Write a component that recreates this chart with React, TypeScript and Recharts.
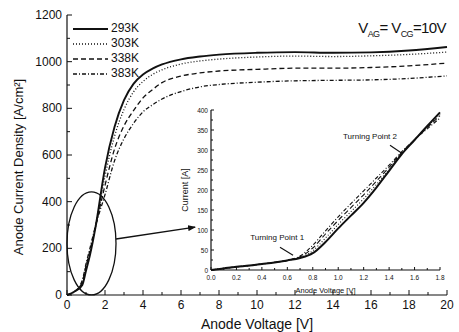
import { Legend, Line, LineChart, ReferenceDot, ReferenceLine, XAxis, YAxis } from 'recharts'

// main plot: anode current density vs anode voltage
const mainVoltage = [0, 0.4, 0.8, 1.0, 1.2, 1.5, 2, 2.5, 3, 3.5, 4, 4.5, 5, 6, 7, 8, 10, 12, 14, 16, 18, 20]
const j293 = [0, 15, 42, 104, 168, 290, 545, 720, 835, 905, 945, 970, 988, 1010, 1022, 1030, 1038, 1041, 1038, 1040, 1048, 1063]
const j303 = [0, 15, 48, 114, 178, 292, 510, 680, 795, 870, 915, 945, 965, 990, 1003, 1011, 1020, 1024, 1022, 1025, 1031, 1041]
const j338 = [0, 15, 55, 124, 188, 294, 470, 625, 725, 790, 845, 880, 910, 938, 952, 960, 967, 972, 972, 975, 982, 994]
const j383 = [0, 15, 62, 133, 198, 296, 430, 575, 670, 735, 785, 815, 840, 872, 892, 902, 912, 918, 920, 922, 928, 939]

// inset: current vs anode voltage, low voltage region
const insetVoltage = [0, 0.1, 0.2, 0.3, 0.4, 0.5, 0.6, 0.7, 0.8, 0.9, 1.0, 1.1, 1.2, 1.3, 1.4, 1.5, 1.6, 1.7, 1.8]
const i293 = [0, 4, 8, 11, 15, 19, 24, 30, 42, 70, 104, 136, 168, 206, 248, 290, 325, 360, 394]
const i303 = [0, 4, 8, 11, 15, 19, 24, 31, 48, 80, 114, 146, 178, 214, 252, 292, 325, 358, 390]
const i338 = [0, 4, 8, 11, 15, 19, 24, 33, 55, 90, 124, 156, 188, 222, 257, 294, 326, 356, 386]
const i383 = [0, 4, 8, 11, 15, 19, 24, 35, 62, 98, 133, 166, 198, 230, 262, 296, 326, 353, 380]

const mainTicksX = [0, 1, 2, 3, 4, 5, 6, 7, 8, 9, 10, 11, 12, 13, 14, 15, 16, 17, 18, 19, 20]
const mainTicksY = [0, 100, 200, 300, 400, 500, 600, 700, 800, 900, 1000, 1100, 1200]
const insetTicksX = [0, 0.1, 0.2, 0.3, 0.4, 0.5, 0.6, 0.7, 0.8, 0.9, 1.0, 1.1, 1.2, 1.3, 1.4, 1.5, 1.6, 1.7, 1.8]
const insetTicksY = [0, 25, 50, 75, 100, 125, 150, 175, 200, 225, 250, 275, 300, 325, 350, 375, 400]

const seriesNames = ['293K', '303K', '338K', '383K']
const seriesKeys = ['t293', 't303', 't338', 't383']
const dashes = [undefined, '1 2', '5 3', '4 2 1 2']

const INK = '#111'
const FONT = '"Liberation Sans", Arial, sans-serif'

const mainData = mainVoltage.map((v, i) => ({ v, t293: j293[i], t303: j303[i], t338: j338[i], t383: j383[i] }))
const insetData = insetVoltage.map((v, i) => ({ v, t293: i293[i], t303: i303[i], t338: i338[i], t383: i383[i] }))

type Side = 'bottom' | 'top' | 'left' | 'right'

function makeTick(side: Side, isMajor: (v: number) => boolean, major: number, minor: number, fontSize = 0, gap = 0, fmt?: (v: number) => string) {
  return (props: any) => {
    const { x, y, payload } = props
    const v = payload.value as number
    const big = isMajor(v)
    const len = big ? major : minor
    const label = big && fmt ? fmt(v) : null
    if (side === 'bottom') {
      return (
        <g>
          <line x1={x} x2={x} y1={y} y2={y - len} stroke={INK} />
          {label && (
            <text x={x} y={y + gap} textAnchor="middle" dominantBaseline="central" fontSize={fontSize} fontFamily={FONT} fill={INK}>
              {label}
            </text>
          )}
        </g>
      )
    }
    if (side === 'top') return <line x1={x} x2={x} y1={y} y2={y + len} stroke={INK} />
    if (side === 'right') return <line x1={x} x2={x - len} y1={y} y2={y} stroke={INK} />
    return (
      <g>
        <line x1={x} x2={x + len} y1={y} y2={y} stroke={INK} />
        {label && (
          <text x={x - gap} y={y} textAnchor="end" dominantBaseline="central" fontSize={fontSize} fontFamily={FONT} fill={INK}>
            {label}
          </text>
        )}
      </g>
    )
  }
}

const mainMajorX = (v: number) => v % 2 === 0
const mainMajorY = (v: number) => v % 200 === 0
const insetMajorX = (v: number) => Math.round(v * 10) % 2 === 0
const insetMajorY = (v: number) => v % 50 === 0

function LegendBox() {
  return (
    <div style={{ fontFamily: FONT, fontSize: 12, color: INK, lineHeight: '15px' }}>
      {seriesNames.map((name, i) => (
        <div key={name} style={{ display: 'flex', alignItems: 'center', height: 15 }}>
          <svg width={35} height={6} style={{ marginRight: 3 }}>
            <line x1={0} x2={35} y1={3} y2={3} stroke={INK} strokeWidth={i === 0 ? 1.8 : 1.3} strokeDasharray={dashes[i]} />
          </svg>
          <span>{name}</span>
        </div>
      ))}
    </div>
  )
}

// rotated y title, a little below the centre of the axis as in the reference
function YTitle({ viewBox }: any) {
  const cx = viewBox.x + 18
  const cy = viewBox.y + viewBox.height / 2 + 12
  return (
    <text x={cx} y={cy} transform={`rotate(-90 ${cx} ${cy})`} textAnchor="middle" dominantBaseline="central" fontSize={13} fontFamily={FONT} fill={INK}>
      Anode Current Density [A/cm²]
    </text>
  )
}

export default function App() {
  return (
    <div style={{ position: 'absolute', left: 0, top: 0, width: 459, height: 332, background: '#fff', fontFamily: FONT }}>
      <LineChart width={459} height={332} data={mainData} margin={{ top: 15, right: 12, bottom: 0, left: 0 }}>
        <defs>
          <marker id="arrowHead" markerWidth={8} markerHeight={6} refX={7} refY={3} orient="auto" markerUnits="userSpaceOnUse">
            <path d="M0,0 L8,3 L0,6 z" fill={INK} />
          </marker>
        </defs>
        <XAxis
          type="number"
          dataKey="v"
          domain={[0, 20]}
          ticks={mainTicksX}
          interval={0}
          height={37}
          tickSize={0}
          tickMargin={0}
          tickLine={false}
          axisLine={{ stroke: INK, strokeWidth: 1.2 }}
          tick={makeTick('bottom', mainMajorX, 5, 3, 12, 10, (v) => String(v))}
          label={{ value: 'Anode Voltage [V]', position: 'insideBottom', offset: 3, fontSize: 14, fill: INK, fontFamily: FONT }}
        />
        <XAxis
          xAxisId="top"
          orientation="top"
          type="number"
          domain={[0, 20]}
          allowDataOverflow
          ticks={mainTicksX}
          interval={0}
          height={0}
          tickSize={0}
          tickMargin={0}
          tickLine={false}
          axisLine={{ stroke: INK, strokeWidth: 1.2 }}
          tick={makeTick('top', mainMajorX, 5, 3)}
        />
        <YAxis
          type="number"
          domain={[0, 1200]}
          ticks={mainTicksY}
          interval={0}
          width={67}
          tickSize={0}
          tickMargin={0}
          tickLine={false}
          axisLine={{ stroke: INK, strokeWidth: 1.2 }}
          tick={makeTick('left', mainMajorY, 5, 3, 12, 5, (v) => String(v))}
          label={{ content: (p: any) => <YTitle viewBox={p.viewBox} /> }}
        />
        <YAxis
          yAxisId="right"
          orientation="right"
          type="number"
          domain={[0, 1200]}
          allowDataOverflow
          ticks={mainTicksY}
          interval={0}
          width={0}
          tickSize={0}
          tickMargin={0}
          tickLine={false}
          axisLine={{ stroke: INK, strokeWidth: 1.2 }}
          tick={makeTick('right', mainMajorY, 5, 3)}
        />
        <Legend
          layout="vertical"
          align="center"
          verticalAlign="middle"
          content={() => <LegendBox />}
          wrapperStyle={{ left: 73, top: 21, width: 80, height: 62 }}
        />
        {seriesKeys.map((key, i) => (
          <Line
            key={key}
            type="monotone"
            dataKey={key}
            name={seriesNames[i]}
            stroke={INK}
            strokeWidth={i === 0 ? 1.9 : 1.3}
            strokeDasharray={dashes[i]}
            dot={false}
            activeDot={false}
            isAnimationActive={false}
          />
        ))}
        <ReferenceDot
          x={1.29}
          y={221}
          r={1}
          shape={(p: any) => <ellipse cx={p.cx} cy={p.cy} rx={24.5} ry={51.5} fill="none" stroke={INK} strokeWidth={1.3} />}
        />
        <ReferenceLine
          segment={[{ x: 2.58, y: 240 }, { x: 6.74, y: 291 }]}
          shape={(p: any) => <line x1={p.x1} y1={p.y1} x2={p.x2} y2={p.y2} stroke={INK} strokeWidth={1.3} markerEnd="url(#arrowHead)" />}
        />
      </LineChart>

      <div style={{ position: 'absolute', right: 13, top: 19, fontSize: 15, color: INK, letterSpacing: -0.6, whiteSpace: 'nowrap' }}>
        V<sub style={{ fontSize: 9 }}>AG</sub>= V<sub style={{ fontSize: 9 }}>CG</sub>=10V
      </div>

      <div style={{ position: 'absolute', left: 175, top: 100 }}>
        <LineChart width={272} height={195} data={insetData} margin={{ top: 10, right: 7, bottom: 0, left: 0 }}>
          <XAxis
            type="number"
            dataKey="v"
            domain={[0, 1.8]}
            ticks={insetTicksX}
            interval={0}
            height={25}
            tickSize={0}
            tickMargin={0}
            tickLine={false}
            axisLine={{ stroke: INK, strokeWidth: 1.2 }}
            tick={makeTick('bottom', insetMajorX, 3, 2, 6.5, 7, (v) => v.toFixed(1))}
            label={{ value: 'Anode Voltage [V]', position: 'insideBottom', offset: 2, fontSize: 7.5, fill: INK, fontFamily: FONT }}
          />
          <XAxis
            xAxisId="top"
            orientation="top"
            type="number"
            domain={[0, 1.8]}
            allowDataOverflow
            ticks={insetTicksX}
            interval={0}
            height={0}
            tickSize={0}
            tickMargin={0}
            tickLine={false}
            axisLine={{ stroke: INK, strokeWidth: 1.2 }}
            tick={makeTick('top', insetMajorX, 3, 2)}
          />
          <YAxis
            type="number"
            domain={[0, 400]}
            ticks={insetTicksY}
            interval={0}
            width={36}
            tickSize={0}
            tickMargin={0}
            tickLine={false}
            axisLine={{ stroke: INK, strokeWidth: 1.2 }}
            tick={makeTick('left', insetMajorY, 3, 2, 6.5, 3, (v) => String(v))}
            label={{ value: 'Current [A]', angle: -90, position: 'insideLeft', offset: 10, fontSize: 9, fill: INK, fontFamily: FONT, style: { textAnchor: 'middle' } }}
          />
          <YAxis
            yAxisId="right"
            orientation="right"
            type="number"
            domain={[0, 400]}
            allowDataOverflow
            ticks={insetTicksY}
            interval={0}
            width={0}
            tickSize={0}
            tickMargin={0}
            tickLine={false}
            axisLine={{ stroke: INK, strokeWidth: 1.2 }}
            tick={makeTick('right', insetMajorY, 3, 2)}
          />
          {seriesKeys.map((key, i) => (
            <Line
              key={key}
              type="monotone"
              dataKey={key}
              name={seriesNames[i]}
              stroke={INK}
              strokeWidth={i === 0 ? 2 : 1.1}
              strokeDasharray={dashes[i]}
              dot={false}
              activeDot={false}
              isAnimationActive={false}
            />
          ))}
          <ReferenceLine
            segment={[{ x: 0.542, y: 57 }, { x: 0.645, y: 37 }]}
            shape={(p: any) => <line x1={p.x1} y1={p.y1} x2={p.x2} y2={p.y2} stroke={INK} strokeWidth={1.1} />}
          />
          <ReferenceLine
            segment={[{ x: 1.407, y: 312 }, { x: 1.5, y: 292 }]}
            shape={(p: any) => <line x1={p.x1} y1={p.y1} x2={p.x2} y2={p.y2} stroke={INK} strokeWidth={1.1} />}
          />
          <ReferenceDot
            x={0.52}
            y={82}
            r={1}
            shape={(p: any) => (
              <text x={p.cx} y={p.cy} textAnchor="middle" dominantBaseline="central" fontSize={8} fontFamily={FONT} fill={INK}>
                Turning Point 1
              </text>
            )}
          />
          <ReferenceDot
            x={1.25}
            y={335}
            r={1}
            shape={(p: any) => (
              <text x={p.cx} y={p.cy} textAnchor="middle" dominantBaseline="central" fontSize={8} fontFamily={FONT} fill={INK}>
                Turning Point 2
              </text>
            )}
          />
        </LineChart>
      </div>
    </div>
  )
}
